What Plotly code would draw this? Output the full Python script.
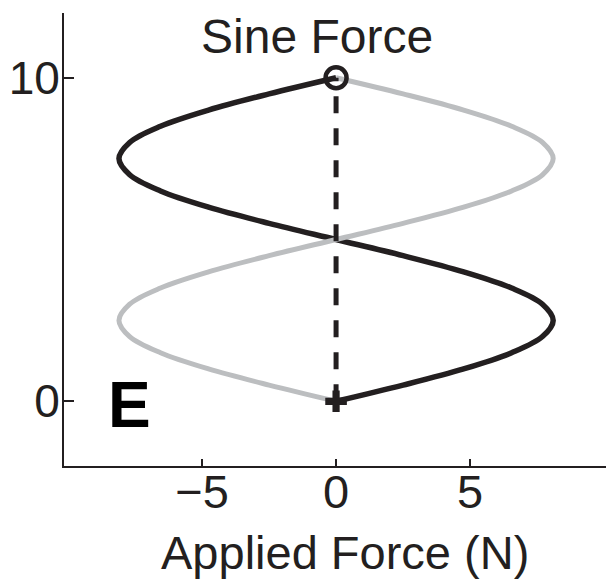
import plotly.graph_objects as go

# Position along the motion (vertical axis) and applied force at each step
position = [0, 0.5, 1, 1.5, 2, 2.5, 3, 3.5, 4, 4.5, 5,
            5.5, 6, 6.5, 7, 7.5, 8, 8.5, 9, 9.5, 10]
force_dark = [0, 2.5, 4.76, 6.55, 7.7, 8.1, 7.7, 6.55, 4.76, 2.5, 0,
              -2.5, -4.76, -6.55, -7.7, -8.1, -7.7, -6.55, -4.76, -2.5, 0]
force_gray = [0, -2.5, -4.76, -6.55, -7.7, -8.1, -7.7, -6.55, -4.76, -2.5, 0,
              2.5, 4.76, 6.55, 7.7, 8.1, 7.7, 6.55, 4.76, 2.5, 0]

# Straight reference path between start and end points
ref_force = [0, 0]
ref_position = [0, 10]

x_ticks = [-5, 0, 5]
y_ticks = [0, 10]

DARK = "#231f20"
GRAY = "#bcbec0"
FONT = "Liberation Sans, Arial, sans-serif"

fig = go.Figure()
fig.add_trace(go.Scatter(x=force_dark, y=position, mode="lines",
                         line=dict(color=DARK, width=5.5, shape="spline"),
                         hoverinfo="skip", showlegend=False))
fig.add_trace(go.Scatter(x=force_gray, y=position, mode="lines",
                         line=dict(color=GRAY, width=5, shape="spline"),
                         hoverinfo="skip", showlegend=False))
fig.add_trace(go.Scatter(x=ref_force, y=ref_position, mode="lines",
                         line=dict(color=DARK, width=5, dash="17px,15px"),
                         hoverinfo="skip", showlegend=False))
fig.add_trace(go.Scatter(x=[ref_force[1]], y=[ref_position[1]], mode="markers",
                         marker=dict(symbol="circle-open", size=21, color=DARK,
                                     line=dict(width=4.5, color=DARK)),
                         hoverinfo="skip", showlegend=False))
fig.add_trace(go.Scatter(x=[ref_force[0]], y=[ref_position[0]], mode="markers",
                         marker=dict(symbol="cross", size=18, color=DARK,
                                     line=dict(width=0)),
                         hoverinfo="skip", showlegend=False))

fig.update_layout(
    width=606, height=581,
    margin=dict(l=64, r=0, t=13, b=115),
    paper_bgcolor="white", plot_bgcolor="white",
    font=dict(family=FONT, color=DARK, size=47),
    xaxis=dict(range=[-10.15, 10.07], tickvals=x_ticks, showgrid=False,
               zeroline=False, showline=True, linecolor=DARK, linewidth=2,
               ticks="inside", ticklen=7, tickwidth=2, tickcolor=DARK,
               ticklabelstandoff=-16,
               tickfont=dict(size=47, family=FONT, color=DARK)),
    yaxis=dict(range=[-2, 12], tickvals=y_ticks, showgrid=False,
               zeroline=False, showline=True, linecolor=DARK, linewidth=2,
               ticks="inside", ticklen=10, tickwidth=2, tickcolor=DARK,
               ticklabelstandoff=-7,
               tickfont=dict(size=46, family=FONT, color=DARK)),
    annotations=[
        dict(text="Sine Force", x=-0.7, y=11.27, xref="x", yref="y",
             showarrow=False, font=dict(size=48, family=FONT, color=DARK),
             xanchor="center", yanchor="middle"),
        dict(text="<b>E</b>", x=-7.69, y=-0.13, xref="x", yref="y",
             showarrow=False, font=dict(size=64, family=FONT, color="black"),
             xanchor="center", yanchor="middle"),
        dict(text="Applied Force (N)", x=0.519, y=-0.19, xref="paper", yref="paper",
             showarrow=False, font=dict(size=47, family=FONT, color=DARK),
             xanchor="center", yanchor="middle"),
    ],
)

fig.write_html("out.html")
